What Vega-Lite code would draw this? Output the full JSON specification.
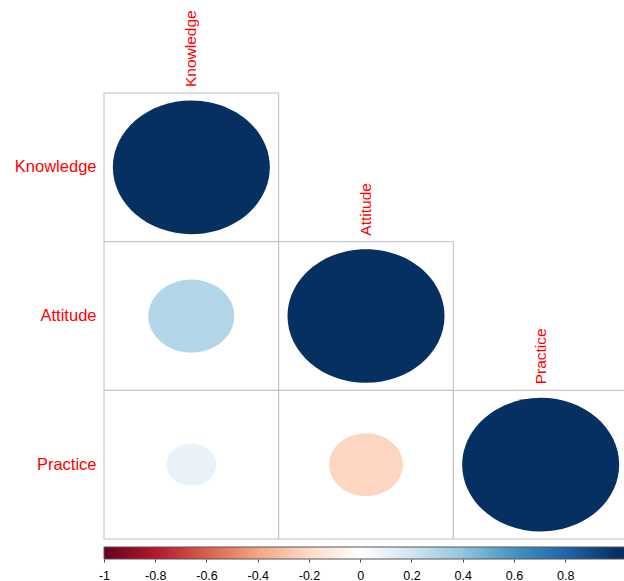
{
  "$schema": "https://vega.github.io/schema/vega-lite/v6.json",
  "padding": {"left": 14, "top": 10, "right": 0, "bottom": 0},
  "background": "white",
  "config": {
    "view": {"stroke": null},
    "font": "Liberation Sans"
  },
  "spacing": 6,
  "datasets": {
    "corr": [
      {"row": "Knowledge", "col": "Knowledge", "r": 1},
      {"row": "Attitude", "col": "Knowledge", "r": 0.30},
      {"row": "Attitude", "col": "Attitude", "r": 1},
      {"row": "Practice", "col": "Knowledge", "r": 0.10},
      {"row": "Practice", "col": "Attitude", "r": -0.22},
      {"row": "Practice", "col": "Practice", "r": 1}
    ],
    "bar": [
      {"lo": -1, "hi": 1.045}
    ]
  },
  "vconcat": [
    {
      "width": 524,
      "height": 446,
      "data": {"name": "corr"},
      "encoding": {
        "x": {
          "field": "col",
          "type": "nominal",
          "scale": {"domain": ["Knowledge", "Attitude", "Practice"], "paddingInner": 0, "paddingOuter": 0},
          "axis": null
        },
        "y": {
          "field": "row",
          "type": "nominal",
          "scale": {"domain": ["Knowledge", "Attitude", "Practice"], "paddingInner": 0, "paddingOuter": 0},
          "axis": {
            "title": null,
            "ticks": false,
            "domain": false,
            "grid": false,
            "labelColor": "#FF0000",
            "labelFont": "Liberation Sans",
            "labelFontSize": 16.5,
            "labelPadding": 8
          }
        }
      },
      "layer": [
        {
          "mark": {"type": "rect", "fill": "white", "stroke": "#BEBEBE", "strokeWidth": 1}
        },
        {
          "mark": {
            "type": "point",
            "filled": true,
            "opacity": 1,
            "strokeWidth": 0,
            "shape": "M-1,0A1,0.851,0,1,1,1,0A1,0.851,0,1,1,-1,0Z"
          },
          "encoding": {
            "size": {
              "field": "r",
              "type": "quantitative",
              "scale": {"type": "linear", "domain": [-1, 0, 1], "range": [24649, 0, 24649]},
              "legend": null
            },
            "color": {
              "field": "r",
              "type": "quantitative",
              "scale": {
                "type": "linear",
                "interpolate": "rgb",
                "domain": [-1, -0.8, -0.6, -0.4, -0.2, 0, 0.2, 0.4, 0.6, 0.8, 1],
                "range": ["#67001F", "#B2182B", "#D6604D", "#F4A582", "#FDDBC7", "#FFFFFF", "#D1E5F0", "#92C5DE", "#4393C3", "#2166AC", "#053061"]
              },
              "legend": null
            }
          }
        },
        {
          "transform": [{"filter": "datum.row === datum.col"}],
          "mark": {
            "type": "text",
            "angle": 270,
            "align": "left",
            "baseline": "middle",
            "dx": 6,
            "color": "#FF0000",
            "font": "Liberation Sans",
            "fontSize": 15.5
          },
          "encoding": {
            "y": {"field": "row", "type": "nominal", "bandPosition": 0},
            "text": {"field": "col"}
          }
        }
      ]
    },
    {
      "width": 524,
      "height": 12,
      "data": {"name": "bar"},
      "mark": {
        "type": "rect",
        "stroke": "#555555",
        "strokeWidth": 1,
        "color": {
          "gradient": "linear",
          "x1": 0, "y1": 0, "x2": 1, "y2": 0,
          "stops": [
            {"offset": 0, "color": "#67001F"},
            {"offset": 0.0978, "color": "#B2182B"},
            {"offset": 0.1956, "color": "#D6604D"},
            {"offset": 0.2934, "color": "#F4A582"},
            {"offset": 0.3912, "color": "#FDDBC7"},
            {"offset": 0.4890, "color": "#FFFFFF"},
            {"offset": 0.5868, "color": "#D1E5F0"},
            {"offset": 0.6846, "color": "#92C5DE"},
            {"offset": 0.7824, "color": "#4393C3"},
            {"offset": 0.8802, "color": "#2166AC"},
            {"offset": 0.9780, "color": "#053061"},
            {"offset": 1, "color": "#053061"}
          ]
        }
      },
      "encoding": {
        "x": {
          "field": "lo",
          "type": "quantitative",
          "scale": {"domain": [-1, 1.045], "nice": false, "zero": false},
          "axis": {
            "title": null,
            "grid": false,
            "domain": false,
            "values": [-1, -0.8, -0.6, -0.4, -0.2, 0, 0.2, 0.4, 0.6, 0.8],
            "labelExpr": "'' + datum.value",
            "labelFlush": false,
            "labelOverlap": false,
            "ticks": true,
            "tickSize": 3,
            "tickColor": "#444444",
            "labelColor": "black",
            "labelFont": "Liberation Sans",
            "labelFontSize": 12.5,
            "labelPadding": 7
          }
        },
        "x2": {"field": "hi"}
      }
    }
  ]
}
